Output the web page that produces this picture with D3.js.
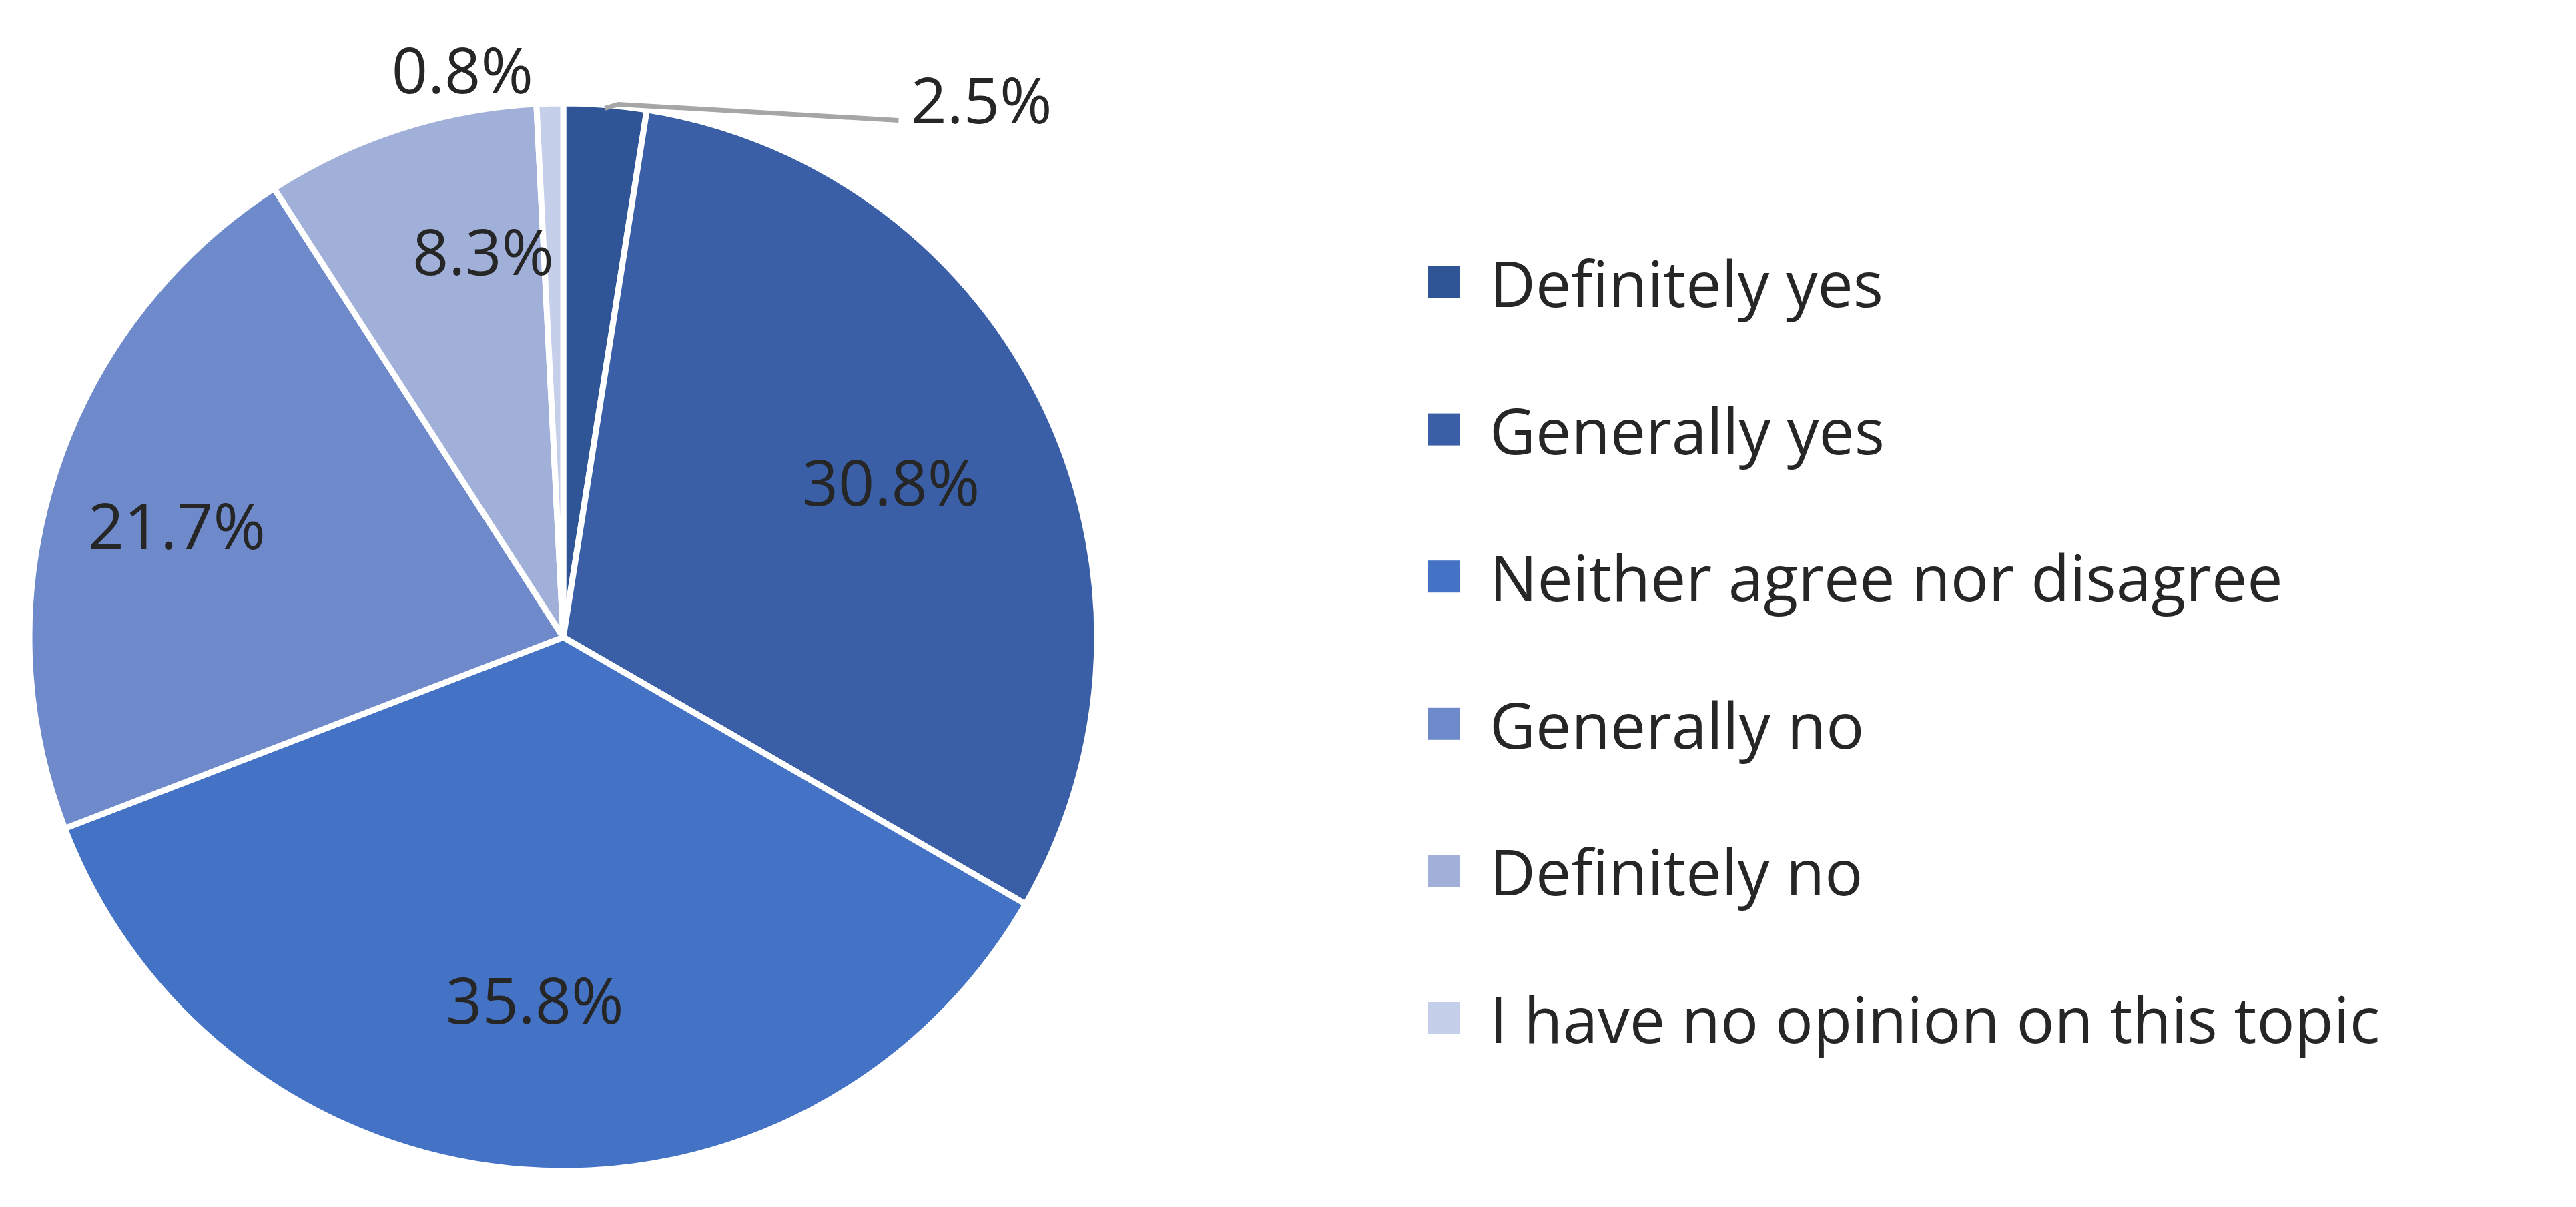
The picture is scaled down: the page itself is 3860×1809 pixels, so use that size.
<!DOCTYPE html>
<html lang="en">
<head>
<meta charset="UTF-8">
<script src="https://d3js.org/d3.v7.min.js"></script>
<style>
  body { margin: 0; background: #fff; }
  text { font-family: "Open Sans", sans-serif; fill: #262626; }
</style>
</head>
<body>
<svg width="3860" height="1809"></svg>
<script>
  const categories = ["Definitely yes", "Generally yes", "Neither agree nor disagree",
                      "Generally no", "Definitely no", "I have no opinion on this topic"];
  const values = [2.5, 30.8, 35.8, 21.7, 8.3, 0.8];
  const colors = ["#2F5597", "#3A5FA6", "#4472C4", "#6F8ACB", "#A0B0D9", "#C5CFE9"];

  const svg = d3.select("svg");
  const cx = 844, cy = 955, R = 800;
  const g = svg.append("g").attr("transform", `translate(${cx},${cy})`);

  const pie = d3.pie().sort(null).value(d => d)(values);
  const arc = d3.arc().innerRadius(0).outerRadius(R);
  const labelArc = d3.arc().innerRadius(R * 0.68).outerRadius(R * 0.68);

  g.selectAll("path.slice")
    .data(pie)
    .join("path")
    .attr("class", "slice")
    .attr("d", arc)
    .attr("fill", (d, i) => colors[i])
    .attr("stroke", "#fff")
    .attr("stroke-width", 9)
    .attr("stroke-linejoin", "round");

  // inside labels for big slices, outside for the two small ones
  const fmt = v => v.toFixed(1) + "%";
  pie.forEach((d, i) => {
    if (d.value >= 5) {
      const [x, y] = labelArc.centroid(d);
      let lx = x, ly = y;
      if (i === 4) { lx = x * 0.72; ly = y * 1.12; }
      if (i === 3) { lx = x * 1.12; }
      g.append("text").attr("x", lx).attr("y", ly)
        .attr("text-anchor", "middle").attr("dominant-baseline", "central")
        .attr("font-size", 95).text(fmt(d.value));
    }
  });

  // 2.5% with leader line
  const a0 = (pie[0].startAngle + pie[0].endAngle) / 2;
  const p0 = [Math.sin(a0) * (R - 5), -Math.cos(a0) * (R - 5)];
  const p1 = [p0[0] + 440, p0[1] + 18];
  g.append("polyline")
    .attr("points", [p0, [p0[0] + 20, p0[1] - 6], p1].map(p => p.join(",")).join(" "))
    .attr("fill", "none").attr("stroke", "#a6a6a6").attr("stroke-width", 7);
  g.append("text").attr("x", p1[0] + 18).attr("y", p1[1] - 32)
    .attr("dominant-baseline", "central").attr("font-size", 95).text(fmt(values[0]));

  // 0.8%
  const a5 = (pie[5].startAngle + pie[5].endAngle) / 2;
  g.append("text")
    .attr("x", Math.sin(a5) * (R + 40) - 130)
    .attr("y", -Math.cos(a5) * (R + 52))
    .attr("text-anchor", "middle").attr("dominant-baseline", "central")
    .attr("font-size", 95).text(fmt(values[5]));

  // legend
  const ly = d3.scalePoint().domain(categories).range([423, 1526]);
  const leg = svg.append("g").selectAll("g").data(categories).join("g")
    .attr("transform", d => `translate(2140,${ly(d)})`);
  leg.append("rect").attr("x", 0).attr("y", -24).attr("width", 48).attr("height", 48)
    .attr("fill", (d, i) => colors[i]);
  leg.append("text").attr("x", 92).attr("y", 0).attr("dominant-baseline", "central")
    .attr("font-size", 95).text(d => d);
</script>
</body>
</html>
